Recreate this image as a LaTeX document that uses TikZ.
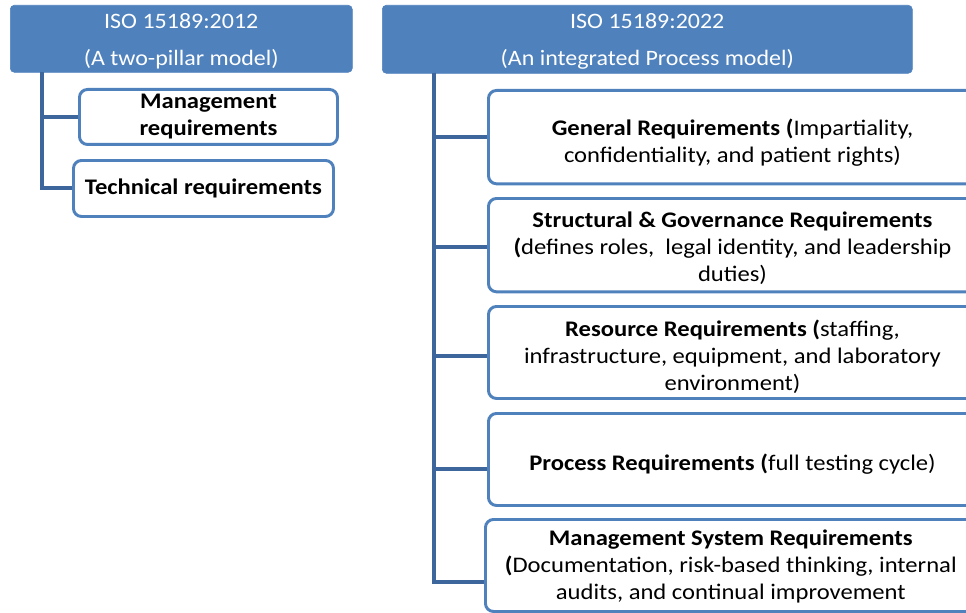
\documentclass[tikz,border=0pt]{standalone}
\usepackage{fontspec}
\setmainfont{Carlito}
\newfontfamily\bodyfont[FakeStretch=1.105]{Carlito}
\newfontfamily\headfont[FakeStretch=1.09]{Carlito}
\definecolor{hdrblue}{HTML}{4F81BD}
\definecolor{rimblue}{HTML}{4F81BD}
\definecolor{linkblue}{HTML}{3D679C}
\begin{document}
\begin{tikzpicture}[x=0.75pt,y=-0.75pt,
  header/.style={fill=hdrblue, draw=hdrblue, rounded corners=3pt,
    anchor=north west, inner sep=0pt},
  headtext/.style={text=white, align=center, inner sep=0pt,
    font=\headfont\fontsize{16.5}{27.75}\selectfont},
  itembox/.style={draw=rimblue, fill=white, line width=2.2pt, rounded corners=6pt,
    anchor=north west, inner sep=0pt},
  boxtext/.style={align=center, inner sep=0pt,
    font=\bodyfont\fontsize{16.7}{20.25}\selectfont},
  link/.style={draw=linkblue, line width=2.8pt}]
\useasboundingbox (0,0) rectangle (966,613);
\clip (0,0) rectangle (966,613);

% --- left column: the 2012 edition
\node[header, minimum width=256.5pt, minimum height=50.25pt] (old) at (10,5) {};
\node[headtext] (oldtext) at ([yshift=-1.5pt]old.center) {ISO 15189:2012\\(A two-pillar model)};
\node[itembox, minimum width=193.5pt, minimum height=41.25pt] (mgmt) at (78,88) {};
\node[boxtext] (mgmttext) at (mgmt.center) {\textbf{Management}\\\textbf{requirements}};
\node[itembox, minimum width=195pt, minimum height=42pt] (tech) at (72,159) {};
\node[boxtext] (techtext) at (tech.center) {\textbf{Technical requirements}};
\coordinate (oldroot) at (42,72);
\draw[link] (oldroot) |- (mgmt.west |- 0,117);
\draw[link] (oldroot) |- (tech.west |- 0,188);

% --- right column: the 2022 edition
\node[header, minimum width=397.5pt, minimum height=51pt] (new) at (382,5) {};
\node[headtext] (newtext) at ([yshift=-1.5pt]new.center) {ISO 15189:2022\\(An integrated Process model)};

\node[itembox, minimum width=366pt, minimum height=70pt] (gen) at (487,89) {};
\node[boxtext] (gentext) at ([yshift=-4.5pt]gen.center)
  {\textbf{General Requirements (}Impartiality,\\confidentiality, and patient rights)};
\node[itembox, minimum width=366pt, minimum height=70pt] (gov) at (487,197) {};
\node[boxtext] (govtext) at ([yshift=-2.2pt]gov.center)
  {\textbf{Structural \& Governance Requirements}\\\textbf{(}defines roles,\ \ legal identity, and leadership\\duties)};
\node[itembox, minimum width=366pt, minimum height=69pt] (res) at (487,305) {};
\node[boxtext] (restext) at ([yshift=-3pt]res.center)
  {\textbf{Resource Requirements (}staffing,\\infrastructure, equipment, and laboratory\\environment)};
\node[itembox, minimum width=366pt, minimum height=69pt] (proc) at (487,412) {};
\node[boxtext] (proctext) at ([yshift=-3.8pt]proc.center)
  {\textbf{Process Requirements (}full testing cycle)};
\node[itembox, minimum width=368pt, minimum height=69pt] (msys) at (484,518) {};
\node[boxtext] (msystext) at ([yshift=-0.8pt]msys.center)
  {\textbf{Management System Requirements}\\\textbf{(}Documentation, risk-based thinking, internal\\audits, and continual improvement};

\coordinate (newroot) at (434,73);
\draw[link] (newroot) |- (gen.west |- 0,137);
\draw[link] (newroot) |- (gov.west |- 0,247);
\draw[link] (newroot) |- (res.west |- 0,356);
\draw[link] (newroot) |- (proc.west |- 0,469);
\draw[link] (newroot) |- (msys.west |- 0,582);
\end{tikzpicture}
\end{document}
